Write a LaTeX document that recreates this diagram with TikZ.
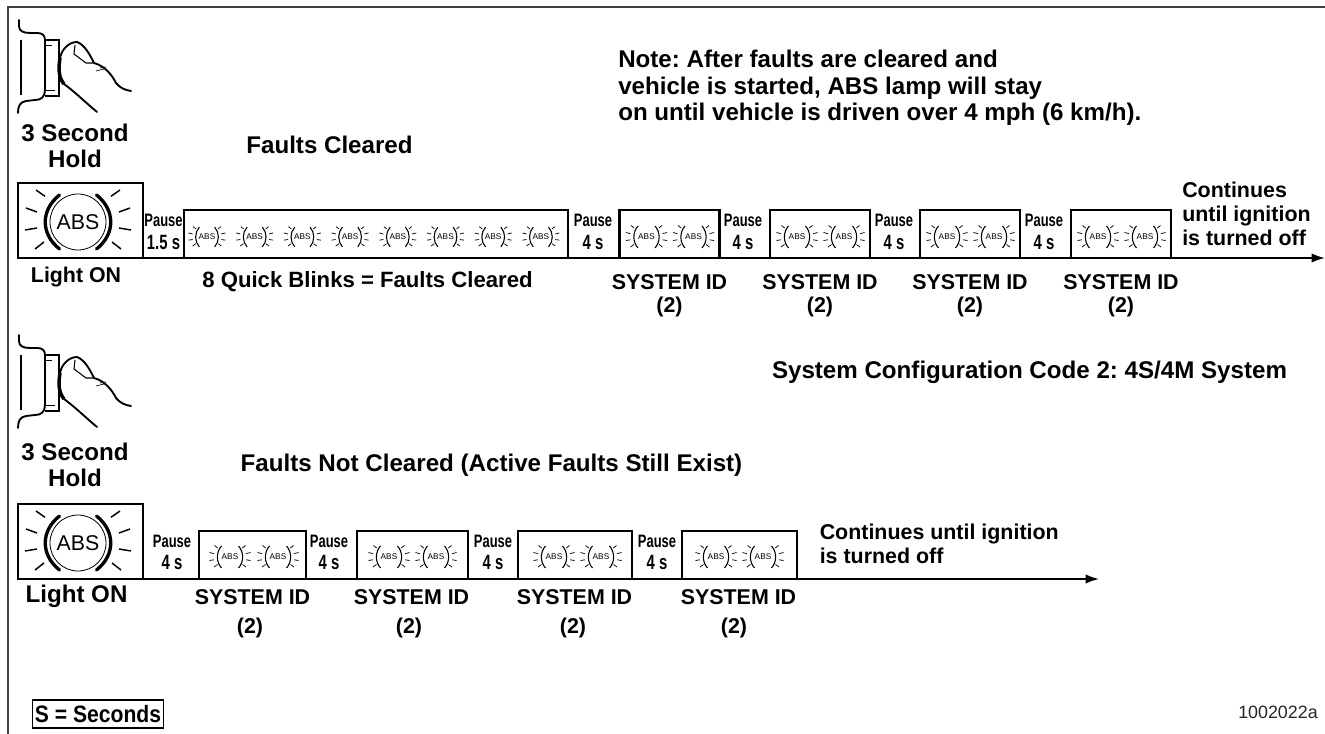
\documentclass[tikz,border=0pt]{standalone}
\usepackage{fontspec}
\setmainfont{Liberation Sans}
\newfontfamily\narrowf[FakeStretch=0.72]{Liberation Sans}
\newfontfamily\legf[FakeStretch=0.89]{Liberation Sans}
\frenchspacing
\usetikzlibrary{arrows.meta}
\tikzset{
  frameline/.style={line width=1pt,draw=black!75},
  ruleone/.style={line width=1.5pt,-{Latex[length=10pt,width=7pt]}},
  ruletwo/.style={line width=1.2pt,-{Latex[length=10pt,width=7pt]}},
  lampbox/.style={line width=1.6pt,draw=black},
  lbl/.style={inner sep=0pt,align=center,text=black},
  lblid/.style={lbl,font=\fontsize{16.05}{20}\selectfont\bfseries},
  lblmid/.style={lbl,font=\fontsize{16.6}{20}\selectfont\bfseries},
  lblbig/.style={lbl,font=\fontsize{18.1}{19.5}\selectfont\bfseries},
  lblcont/.style={lbl,align=left,anchor=west,font=\fontsize{16.05}{18}\selectfont\bfseries},
  pausetop/.style={lbl,font=\narrowf\fontsize{13.5}{16}\selectfont\bfseries},
  pausebot/.style={lbl,font=\narrowf\fontsize{15.5}{16}\selectfont\bfseries},
  ray/.style={line width=1.1pt},
  smallray/.style={line width=.55pt},
  smalllamp/.pic={
    \draw[line width=.8pt] (-8.5,-11) .. controls (-14,-5) and (-14,5) .. (-8.5,11);
    \draw[line width=.8pt] (8.5,-11) .. controls (14,-5) and (14,5) .. (8.5,11);
    \node[inner sep=0pt,font=\fontsize{6.2}{7}\selectfont] at (0,0) {ABS};
    \foreach \sx in {-1,1}{
      \draw[smallray] (\sx*20.5,-4.5) -- (\sx*16,-3.3);
      \draw[smallray] (\sx*20.5,3.5) -- (\sx*16,2.8);
      \draw[smallray] (\sx*15.5,-11.5) -- (\sx*12.3,-9);
      \draw[smallray] (\sx*16,10) -- (\sx*12.5,7.5);
    }
  },
  biglamp/.pic={
    \draw[line width=.6pt] (0,0) circle[radius=28];
    \draw[line width=2.5pt,line cap=round] (-18.5,-27) .. controls (-37.5,-12) and (-37.5,12) .. (-18.5,27);
    \draw[line width=2.5pt,line cap=round] (18.5,-27) .. controls (37.5,-12) and (37.5,12) .. (18.5,27);
    \node[inner sep=0pt,font=\fontsize{16}{18}\selectfont] at (0,0) {ABS};
    \foreach \sx in {-1,1}{
      \draw[ray] (\sx*52,-14) -- (\sx*41,-10);
      \draw[ray] (\sx*53,8) -- (\sx*41,6);
      \draw[ray] (\sx*42,-32) -- (\sx*33,-25.7);
      \draw[ray] (\sx*43,27) -- (\sx*34,20);
    }
  },
  finger/.pic={
    \draw[line width=1.4pt,line cap=round,line join=round]
      (19,20) -- (19,26) .. controls (19,31) and (23,33) .. (30,33) -- (37,33)
      .. controls (42,33) and (45,35) .. (45,40) -- (45,90)
      .. controls (45,97) and (41,100) .. (35,100) -- (26,101)
      .. controls (20,102) and (18,106) .. (18,113);
    \draw[line width=.8pt] (21,40) -- (21,95);
    \draw[line width=1.7pt] (45,40) -- (59,40) -- (59,96) -- (45,96);
    \draw[line width=.7pt] (45,45) -- (52,45) (45,90) -- (55,90);
    \draw[line width=2.6pt] (60,58) .. controls (58,70) and (59,78) .. (64,84);
    \draw[line width=1.4pt,line cap=round,line join=round]
      (97,112) .. controls (85,102) and (75,92) .. (64,84);
    \draw[line width=1.4pt,line cap=round,line join=round]
      (60,58) .. controls (62,48) and (70,42) .. (77,42)
      .. controls (85,45) and (90,55) .. (94,63)
      .. controls (105,66) and (112,75) .. (116,83)
      .. controls (120,88) and (125,90) .. (131,91);
    \draw[line width=.8pt,line join=round] (75,45) -- (74,54) -- (86,63) -- (94,63);
    \draw[line width=.5pt] (96,71) -- (104,69) (100,68) -- (106,67);
  }
}
\begin{document}
\begin{tikzpicture}[x=.75pt,y=-.75pt]
\useasboundingbox (0,0) rectangle (1325,734);
\fill[white] (0,0) rectangle (1325,734);
\coordinate (fa) at (8,734);
\coordinate (fb) at (8,7);
\coordinate (fc) at (1325,7);
\draw[frameline] (fa) -- (fb) -- (fc);

\pic at (0,0) {finger};
\pic at (0,315) {finger};

\node[lblbig] (hold1) at (75,146) {3 Second\\Hold};
\node[lblbig] (hold2) at (75,465) {3 Second\\Hold};

\node[lblbig,align=left,anchor=west,font=\fontsize{18.1}{19.9}\selectfont\bfseries] (note) at (618,88) {Note: After faults are cleared and\\vehicle is started, ABS lamp will stay\\on until vehicle is driven over 4 mph (6 km/h).};
\node[lblbig] (fc1) at (329.5,145) {Faults Cleared};
\node[lblbig] (sys) at (1029.5,372) {System Configuration Code 2: 4S/4M System};
\node[lblbig] (fnc) at (491.5,465) {Faults Not Cleared (Active Faults Still Exist)};

% row 1
\coordinate (r1s) at (18,258);
\coordinate (r1e) at (1325,258);
\draw[ruleone] (r1s) -- (r1e);
\draw[lampbox] (18,183) rectangle (143,258);
\pic at (78,222) {biglamp};
\draw[lampbox] (184,210) rectangle (568,258);
\foreach \i in {0,...,7}{\pic[scale=.9] at ({207+47.7*\i},237) {smalllamp};}
\foreach \x in {619.5,770,920,1071}{
  \draw[lampbox] (\x,210) rectangle (\x+100,258);
  \pic at (\x+27,237) {smalllamp};
  \pic at (\x+74,237) {smalllamp};
  \node[lblid] (ida\x) at (\x+50,282) {SYSTEM ID};
  \node[lblid] (numa\x) at (\x+50,307) {(2)};
}
\node[pausetop] (pt0) at (163.5,220) {Pause};
\node[pausebot] (pb0) at (163.5,242) {1.5 s};
\foreach \x in {593,743,894,1044}{
  \node[pausetop] (pta\x) at (\x,220) {Pause};
  \node[pausebot] (pba\x) at (\x,242) {4 s};
}
\node[lbl,font=\fontsize{16}{20}\selectfont\bfseries] (lo1) at (76,277) {Light ON};
\node[lblmid] (qb) at (367.5,282) {8 Quick Blinks = Faults Cleared};
\node[lblcont] (cont1) at (1182,214) {Continues\\until ignition\\is turned off};

% row 2
\coordinate (r2s) at (18,579);
\coordinate (r2e) at (1099,579);
\draw[ruletwo] (r2s) -- (r2e);
\draw[lampbox] (18,504) rectangle (143,579);
\pic at (78,543) {biglamp};
\foreach \x/\w/\la/\lb/\tc/\nc in {199/107/230/278/252.5/250,357/111/389/436/411.5/409,518/114/554/601/574.5/573,682/115/716/763/738.5/734}{
  \draw[lampbox] (\x,531) rectangle (\x+\w,579);
  \pic at (\la,557) {smalllamp};
  \pic at (\lb,557) {smalllamp};
  \node[lblid] (idb\x) at (\tc,597) {SYSTEM ID};
  \node[lblid] (numb\x) at (\nc,628) {(2)};
}
\foreach \x in {172,329,493,657}{
  \node[pausetop] (ptb\x) at (\x,541) {Pause};
  \node[pausebot] (pbb\x) at (\x,562) {4 s};
}
\node[lblbig] (lo2) at (76.5,596) {Light ON};
\node[lblcont] (cont2) at (819.5,544) {Continues until ignition\\is turned off};

% legend
\node[draw,line width=1.2pt,font=\legf\fontsize{17.8}{20}\selectfont\bfseries,inner sep=0pt,minimum width=98.5pt,minimum height=21pt] (leg) at (98,714) {S = Seconds};
\node[inner sep=0pt,font=\fontsize{13.4}{14}\selectfont,anchor=east,text=black!85] (fig) at (1318,712) {1002022a};
\end{tikzpicture}
\end{document}
